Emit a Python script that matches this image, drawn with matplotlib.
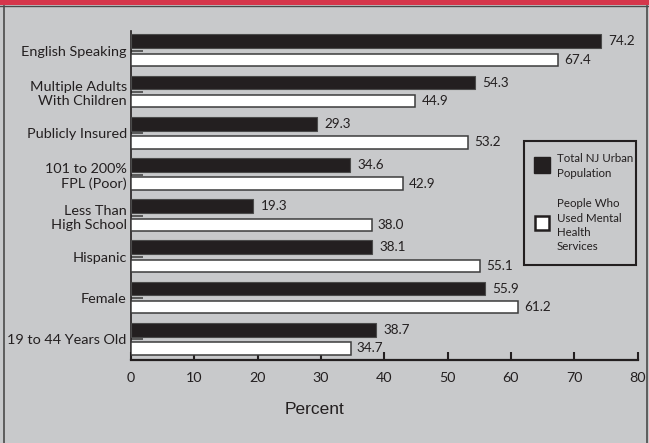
import matplotlib
matplotlib.use("Agg")
import matplotlib.pyplot as plt
from matplotlib.patches import Rectangle
from matplotlib.lines import Line2D
import numpy as np

plt.rcParams['font.family'] = ['Lato', 'DejaVu Sans']

categories = [
    "English Speaking",
    "Multiple Adults\nWith Children",
    "Publicly Insured",
    "101 to 200%\nFPL (Poor)",
    "Less Than\nHigh School",
    "Hispanic",
    "Female",
    "19 to 44 Years Old",
]
total_nj_urban = [74.2, 54.3, 29.3, 34.6, 19.3, 38.1, 55.9, 38.7]
mental_health_users = [67.4, 44.9, 53.2, 42.9, 38.0, 55.1, 61.2, 34.7]
x_ticks = [0, 10, 20, 30, 40, 50, 60, 70, 80]
legend_labels = [["Total NJ Urban", "Population"],
                 ["People Who", "Used Mental", "Health", "Services"]]

W, H = 649, 443
BG = "#c8c9cb"
INK = "#231f20"
EDGE = "#3c3c3c"


def fx(px):
    return px / W


def fy(py):
    return 1 - py / H


fig = plt.figure(figsize=(W / 100, H / 100), dpi=100, facecolor=BG)

# page furniture: red header strip and thin frame
fig.patches.append(Rectangle((0, fy(5)), 1, 5 / H, transform=fig.transFigure,
                             facecolor="#d5364b", edgecolor="none", zorder=0))
fig.lines.append(Line2D([0, 1], [fy(5.5), fy(5.5)], transform=fig.transFigure,
                        color="#4a4a4a", lw=1.0))
fig.lines.append(Line2D([fx(3.5), fx(3.5)], [0, fy(5.5)], transform=fig.transFigure,
                        color="#4a4a4a", lw=1.2))
fig.lines.append(Line2D([fx(646.5), fx(646.5)], [0, fy(5.5)], transform=fig.transFigure,
                        color="#4a4a4a", lw=1.2))

left, right, top, bottom = 131, 637.5, 31, 360
ax = fig.add_axes([fx(left), fy(bottom), (right - left) / W, (bottom - top) / H])
ax.set_facecolor(BG)

y = np.arange(len(categories))
ax.barh(y - 0.235, total_nj_urban, height=0.335, color=INK,
        edgecolor="#4a4a4a", linewidth=0.8, zorder=3)
ax.barh(y + 0.22, mental_health_users, height=0.30, color="white",
        edgecolor=EDGE, linewidth=1.1, zorder=3)

for yi, v in zip(y, total_nj_urban):
    ax.annotate(f"{v:.1f}", (v, yi - 0.235), xytext=(5.5, 0),
                textcoords="offset points", va="center", ha="left",
                fontsize=9.7, color=INK)
for yi, v in zip(y, mental_health_users):
    ax.annotate(f"{v:.1f}", (v, yi + 0.22), xytext=(4.5, 0),
                textcoords="offset points", va="center", ha="left",
                fontsize=9.7, color=INK)

ax.set_xlim(0, 80)
ax.set_ylim(7.5, -0.485)
ax.set_xticks(x_ticks)
ax.set_xticklabels([str(t) for t in x_ticks])
ax.set_yticks(y)
ax.set_yticklabels(categories)

for s in ("top", "right"):
    ax.spines[s].set_visible(False)
ax.spines["bottom"].set_linewidth(1.6)
ax.spines["bottom"].set_color(INK)
ax.spines["left"].set_linewidth(1.2)
ax.spines["left"].set_color(INK)

ax.tick_params(axis="x", direction="in", length=6, width=1.5, color=INK,
               labelsize=10.3, labelcolor=INK, pad=9)
ax.tick_params(axis="y", direction="in", length=8.5, width=1.1, color="#3a3a3a",
               labelsize=10.4, labelcolor=INK, pad=3)

fig.text(fx(314), fy(409), "Percent", ha="center", va="center",
         fontsize=12.5, color=INK, family=["Liberation Sans", "DejaVu Sans"])

# legend box
fig.patches.append(Rectangle((fx(523.5), fy(265)), (636 - 523.5) / W, (265 - 141) / H,
                             transform=fig.transFigure, facecolor="none",
                             edgecolor=INK, linewidth=1.5, zorder=5))
fig.patches.append(Rectangle((fx(534), fy(173)), 16 / W, 16 / H,
                             transform=fig.transFigure, facecolor=INK,
                             edgecolor=INK, linewidth=1.0, zorder=5))
fig.patches.append(Rectangle((fx(535), fy(230)), 14 / W, 14 / H,
                             transform=fig.transFigure, facecolor="white",
                             edgecolor=INK, linewidth=1.8, zorder=5))
for i, line in enumerate(legend_labels[0]):
    fig.text(fx(557), fy(159 + i * 14.5), line, ha="left", va="center",
             fontsize=8.3, color=INK)
for i, line in enumerate(legend_labels[1]):
    fig.text(fx(557), fy(203.5 + i * 14.5), line, ha="left", va="center",
             fontsize=8.3, color=INK)

fig.savefig("out.png", dpi=100, facecolor=BG)
